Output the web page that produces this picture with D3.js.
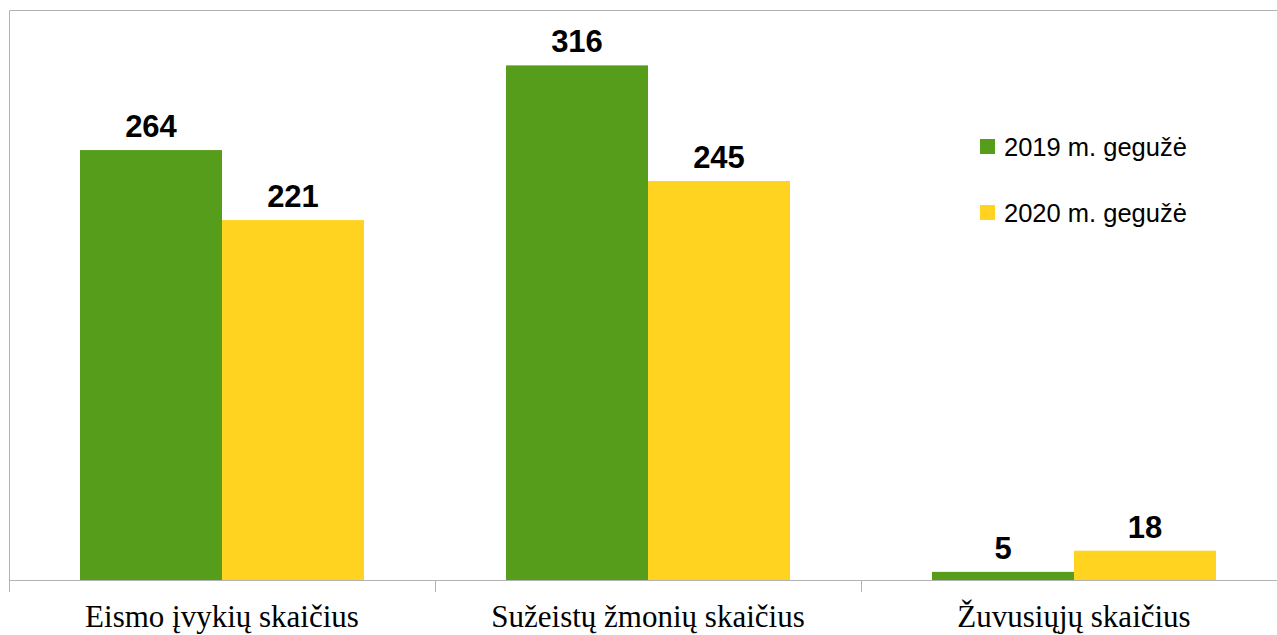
<!DOCTYPE html>
<html>
<head>
<meta charset="utf-8">
<script src="https://cdnjs.cloudflare.com/ajax/libs/d3/7.8.5/d3.min.js"></script>
<style>
  body { margin: 0; background: #fff; }
  svg { display: block; }
</style>
</head>
<body>
<svg id="chart" width="1277" height="635"></svg>
<script>
const categories = ["Eismo įvykių skaičius", "Sužeistų žmonių skaičius", "Žuvusiųjų skaičius"];
const seriesNames = ["2019 m. gegužė", "2020 m. gegužė"];
const values2019 = [264, 316, 5];
const values2020 = [221, 245, 18];
const colors = ["#579d1c", "#ffd320"];

const width = 1277, height = 635;
const margin = {top: 10, right: -10, bottom: 55, left: 9};

const svg = d3.select("#chart");

// frame line (top + left)
svg.append("path")
    .attr("d", `M${margin.left + 0.5},592 V${margin.top + 0.5} H${width}`)
    .attr("fill", "none")
    .attr("stroke", "#b3b3b3")
    .attr("stroke-width", 1);

const x0 = d3.scaleBand()
    .domain(categories)
    .range([margin.left, width - margin.right])
    .paddingInner(0)
    .paddingOuter(0);

const x1 = d3.scaleBand()
    .domain(seriesNames)
    .range([0, x0.bandwidth()])
    .paddingInner(0)
    .paddingOuter(0.5);

const y = d3.scaleLinear()
    .domain([0, 350])
    .range([height - margin.bottom, margin.top]);

const series = [values2019, values2020];

const groups = svg.append("g")
  .selectAll("g")
  .data(categories)
  .join("g")
    .attr("transform", d => `translate(${x0(d)},0)`);

groups.selectAll("rect")
  .data((d, i) => seriesNames.map((s, j) => ({s, v: series[j][i], j})))
  .join("rect")
    .attr("x", d => x1(d.s))
    .attr("y", d => y(d.v))
    .attr("width", x1.bandwidth())
    .attr("height", d => y(0) - y(d.v))
    .attr("fill", d => colors[d.j]);

groups.selectAll("text.val")
  .data((d, i) => seriesNames.map((s, j) => ({s, v: series[j][i], j})))
  .join("text")
    .attr("class", "val")
    .attr("x", d => x1(d.s) + x1.bandwidth() / 2)
    .attr("y", d => y(d.v) - 13)
    .attr("text-anchor", "middle")
    .attr("font-family", "Liberation Sans, Arial, sans-serif")
    .attr("font-weight", "bold")
    .attr("font-size", 31)
    .attr("fill", "#000")
    .text(d => d.v);

// x axis
const xAxis = d3.axisBottom(x0).tickSize(0).tickPadding(0);
const axisG = svg.append("g")
    .attr("transform", `translate(0,${y(0)})`)
    .call(xAxis);
axisG.select(".domain").attr("stroke", "#b3b3b3").attr("d", `M${margin.left},0.5H${width}`);
axisG.selectAll(".tick text")
    .attr("y", 47)
    .attr("dy", 0)
    .attr("font-family", "Liberation Serif, Times New Roman, serif")
    .attr("font-size", 31)
    .attr("fill", "#000");

// category separators
const seps = categories.map(c => x0(c)).concat([x0(categories[2]) + x0.bandwidth()]);
svg.append("g")
  .selectAll("line")
  .data(seps)
  .join("line")
    .attr("x1", d => Math.round(d) + 0.5)
    .attr("x2", d => Math.round(d) + 0.5)
    .attr("y1", y(0))
    .attr("y2", y(0) + 12)
    .attr("stroke", "#b3b3b3");

// legend
const legend = svg.append("g")
  .selectAll("g")
  .data(seriesNames)
  .join("g")
    .attr("transform", (d, i) => `translate(980,${139 + i * 66})`);

legend.append("rect")
    .attr("width", 15)
    .attr("height", 15)
    .attr("fill", (d, i) => colors[i]);

legend.append("text")
    .attr("x", 24)
    .attr("y", 17)
    .attr("font-family", "Liberation Sans, Arial, sans-serif")
    .attr("font-size", 25.5)
    .attr("fill", "#000")
    .text(d => d);
</script>
</body>
</html>
